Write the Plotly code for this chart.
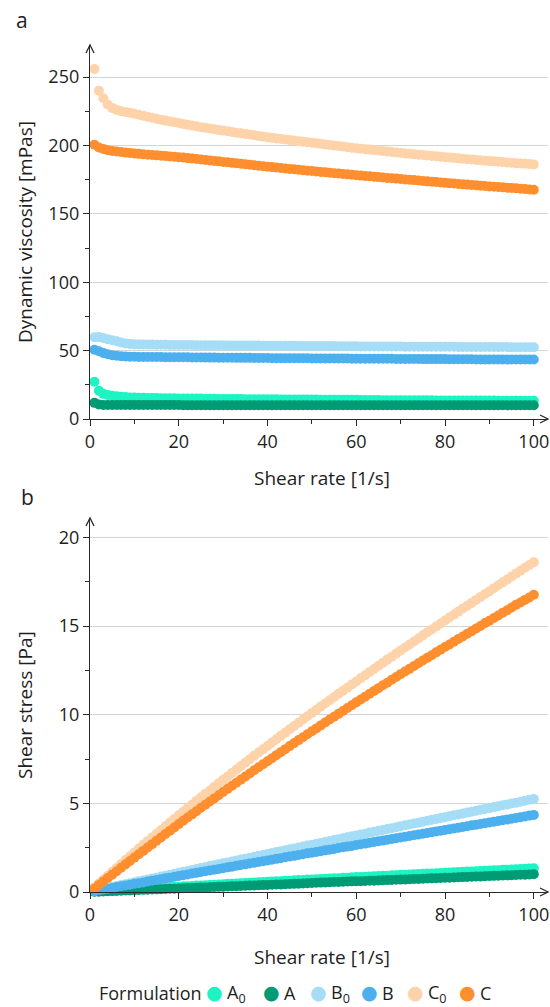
import plotly.graph_objects as go

# ---------------- data ----------------
shear_rate = [1, 2, 3, 4, 5, 6, 7, 8, 9, 10,
              11, 12, 13, 14, 15, 16, 17, 18, 19, 20,
              21, 22, 23, 24, 25, 26, 27, 28, 29, 30,
              31, 32, 33, 34, 35, 36, 37, 38, 39, 40,
              41, 42, 43, 44, 45, 46, 47, 48, 49, 50,
              51, 52, 53, 54, 55, 56, 57, 58, 59, 60,
              61, 62, 63, 64, 65, 66, 67, 68, 69, 70,
              71, 72, 73, 74, 75, 76, 77, 78, 79, 80,
              81, 82, 83, 84, 85, 86, 87, 88, 89, 90,
              91, 92, 93, 94, 95, 96, 97, 98, 99, 100]

# Dynamic viscosity [mPas]
visc_A0 = [27.2, 20.6, 18.4, 17.5, 17.0, 16.6, 16.3, 16.0, 15.8, 15.7,
           15.6, 15.5, 15.4, 15.4, 15.3, 15.2, 15.2, 15.1, 15.1, 15.0,
           15.0, 15.0, 14.9, 14.9, 14.9, 14.8, 14.8, 14.8, 14.7, 14.7,
           14.7, 14.6, 14.6, 14.6, 14.5, 14.5, 14.5, 14.5, 14.4, 14.4,
           14.4, 14.4, 14.3, 14.3, 14.3, 14.3, 14.2, 14.2, 14.2, 14.2,
           14.2, 14.1, 14.1, 14.1, 14.1, 14.0, 14.0, 14.0, 14.0, 14.0,
           13.9, 13.9, 13.9, 13.9, 13.9, 13.8, 13.8, 13.8, 13.8, 13.8,
           13.8, 13.7, 13.7, 13.7, 13.7, 13.7, 13.7, 13.6, 13.6, 13.6,
           13.6, 13.6, 13.6, 13.6, 13.5, 13.5, 13.5, 13.5, 13.5, 13.5,
           13.5, 13.4, 13.4, 13.4, 13.4, 13.4, 13.4, 13.4, 13.4, 13.4]
visc_A = [11.8, 10.6, 10.3, 10.2, 10.2, 10.2, 10.2, 10.2, 10.2, 10.2,
          10.2, 10.2, 10.2, 10.2, 10.2, 10.2, 10.2, 10.2, 10.2, 10.2,
          10.1, 10.1, 10.1, 10.1, 10.1, 10.1, 10.1, 10.1, 10.1, 10.1,
          10.1, 10.1, 10.1, 10.1, 10.1, 10.1, 10.1, 10.1, 10.1, 10.1,
          10.1, 10.1, 10.1, 10.1, 10.1, 10.1, 10.1, 10.1, 10.1, 10.1,
          10.1, 10.1, 10.1, 10.1, 10.1, 10.1, 10.1, 10.1, 10.1, 10.1,
          10.0, 10.0, 10.0, 10.0, 10.0, 10.0, 10.0, 10.0, 10.0, 10.0,
          10.0, 10.0, 10.0, 10.0, 10.0, 10.0, 10.0, 10.0, 10.0, 10.0,
          10.0, 10.0, 10.0, 10.0, 10.0, 10.0, 10.0, 10.0, 10.0, 10.0,
          10.0, 10.0, 10.0, 10.0, 10.0, 10.0, 10.0, 10.0, 10.0, 10.0]
visc_B0 = [59.8, 60.0, 59.2, 58.3, 57.6, 56.8, 56.0, 55.3, 54.8, 54.6,
           54.5, 54.5, 54.4, 54.4, 54.3, 54.3, 54.3, 54.2, 54.2, 54.2,
           54.1, 54.1, 54.1, 54.0, 54.0, 54.0, 53.9, 53.9, 53.9, 53.9,
           53.8, 53.8, 53.8, 53.8, 53.7, 53.7, 53.7, 53.7, 53.6, 53.6,
           53.6, 53.6, 53.5, 53.5, 53.5, 53.5, 53.4, 53.4, 53.4, 53.4,
           53.4, 53.3, 53.3, 53.3, 53.3, 53.2, 53.2, 53.2, 53.2, 53.2,
           53.1, 53.1, 53.1, 53.1, 53.1, 53.0, 53.0, 53.0, 53.0, 53.0,
           52.9, 52.9, 52.9, 52.9, 52.9, 52.9, 52.8, 52.8, 52.8, 52.8,
           52.8, 52.8, 52.7, 52.7, 52.7, 52.7, 52.7, 52.7, 52.6, 52.6,
           52.6, 52.6, 52.6, 52.6, 52.5, 52.5, 52.5, 52.5, 52.5, 52.5]
visc_B = [50.7, 49.5, 48.3, 47.3, 46.6, 46.2, 45.9, 45.7, 45.6, 45.5,
          45.4, 45.4, 45.4, 45.3, 45.3, 45.3, 45.2, 45.2, 45.2, 45.1,
          45.1, 45.1, 45.0, 45.0, 45.0, 44.9, 44.9, 44.9, 44.8, 44.8,
          44.8, 44.8, 44.7, 44.7, 44.7, 44.7, 44.6, 44.6, 44.6, 44.6,
          44.5, 44.5, 44.5, 44.5, 44.4, 44.4, 44.4, 44.4, 44.4, 44.3,
          44.3, 44.3, 44.3, 44.2, 44.2, 44.2, 44.2, 44.2, 44.1, 44.1,
          44.1, 44.1, 44.1, 44.0, 44.0, 44.0, 44.0, 44.0, 43.9, 43.9,
          43.9, 43.9, 43.9, 43.9, 43.8, 43.8, 43.8, 43.8, 43.8, 43.8,
          43.7, 43.7, 43.7, 43.7, 43.7, 43.7, 43.6, 43.6, 43.6, 43.6,
          43.6, 43.6, 43.6, 43.5, 43.5, 43.5, 43.5, 43.5, 43.5, 43.5]
visc_C0 = [256, 240, 234.5, 230, 227.5, 226, 225, 224.5, 224, 223.2,
           222.5, 221.8, 221, 220.3, 219.6, 218.9, 218.2, 217.6, 217, 216.4,
           215.8, 215.2, 214.6, 214, 213.4, 212.9, 212.4, 211.9, 211.4, 210.9,
           210.4, 209.9, 209.4, 209, 208.5, 208, 207.5, 207, 206.5, 206,
           205.6, 205.2, 204.8, 204.4, 204, 203.6, 203.2, 202.8, 202.4, 202,
           201.6, 201.2, 200.8, 200.4, 200, 199.6, 199.2, 198.8, 198.4, 198,
           197.7, 197.3, 197, 196.6, 196.3, 195.9, 195.6, 195.2, 194.9, 194.5,
           194.2, 193.9, 193.6, 193.3, 193, 192.7, 192.4, 192.1, 191.8, 191.5,
           191.2, 190.9, 190.6, 190.3, 190, 189.7, 189.4, 189.2, 188.9, 188.6,
           188.4, 188.1, 187.9, 187.6, 187.4, 187.1, 186.9, 186.6, 186.4, 186.1]
visc_C = [200.5, 198.5, 197.4, 196.6, 196.0, 195.6, 195.2, 194.8, 194.5, 194.2,
          193.9, 193.6, 193.3, 193.1, 192.8, 192.5, 192.3, 192.0, 191.8, 191.5,
          191.2, 190.8, 190.5, 190.1, 189.8, 189.4, 189.1, 188.7, 188.4, 188.0,
          187.7, 187.3, 187.0, 186.6, 186.3, 185.9, 185.6, 185.2, 184.9, 184.5,
          184.2, 183.9, 183.5, 183.2, 182.9, 182.6, 182.3, 181.9, 181.6, 181.3,
          181.0, 180.7, 180.4, 180.1, 179.8, 179.5, 179.2, 178.9, 178.6, 178.3,
          178.0, 177.7, 177.5, 177.2, 176.9, 176.6, 176.3, 176.1, 175.8, 175.5,
          175.2, 174.9, 174.7, 174.4, 174.1, 173.8, 173.5, 173.3, 173.0, 172.7,
          172.4, 172.2, 171.9, 171.6, 171.4, 171.1, 170.9, 170.6, 170.4, 170.1,
          169.9, 169.6, 169.4, 169.1, 168.9, 168.7, 168.4, 168.2, 167.9, 167.7]

# Shear stress [Pa]
stress_A0 = [0.03, 0.04, 0.06, 0.07, 0.09, 0.10, 0.11, 0.13, 0.14, 0.16,
             0.17, 0.19, 0.20, 0.22, 0.23, 0.24, 0.26, 0.27, 0.29, 0.30,
             0.32, 0.33, 0.34, 0.36, 0.37, 0.38, 0.40, 0.41, 0.43, 0.44,
             0.46, 0.47, 0.48, 0.50, 0.51, 0.52, 0.54, 0.55, 0.56, 0.58,
             0.59, 0.60, 0.61, 0.63, 0.64, 0.66, 0.67, 0.68, 0.70, 0.71,
             0.72, 0.73, 0.75, 0.76, 0.78, 0.78, 0.80, 0.81, 0.83, 0.84,
             0.85, 0.86, 0.88, 0.89, 0.90, 0.91, 0.92, 0.94, 0.95, 0.97,
             0.98, 0.99, 1.00, 1.01, 1.03, 1.04, 1.05, 1.06, 1.07, 1.09,
             1.10, 1.12, 1.13, 1.14, 1.15, 1.16, 1.17, 1.19, 1.20, 1.22,
             1.23, 1.23, 1.25, 1.26, 1.27, 1.29, 1.30, 1.31, 1.33, 1.34]
stress_A = [0.01, 0.02, 0.03, 0.04, 0.05, 0.06, 0.07, 0.08, 0.09, 0.10,
            0.11, 0.12, 0.13, 0.14, 0.15, 0.16, 0.17, 0.18, 0.19, 0.20,
            0.21, 0.22, 0.23, 0.24, 0.25, 0.26, 0.27, 0.28, 0.29, 0.30,
            0.31, 0.32, 0.33, 0.34, 0.35, 0.36, 0.37, 0.38, 0.39, 0.40,
            0.41, 0.42, 0.43, 0.44, 0.45, 0.46, 0.47, 0.48, 0.49, 0.51,
            0.52, 0.53, 0.54, 0.55, 0.56, 0.57, 0.58, 0.59, 0.60, 0.61,
            0.61, 0.62, 0.63, 0.64, 0.65, 0.66, 0.67, 0.68, 0.69, 0.70,
            0.71, 0.72, 0.73, 0.74, 0.75, 0.76, 0.77, 0.78, 0.79, 0.80,
            0.81, 0.82, 0.83, 0.84, 0.85, 0.86, 0.87, 0.88, 0.89, 0.90,
            0.91, 0.92, 0.93, 0.94, 0.95, 0.96, 0.97, 0.98, 0.99, 1.00]
stress_B0 = [0.06, 0.12, 0.18, 0.23, 0.29, 0.34, 0.39, 0.44, 0.49, 0.55,
             0.60, 0.65, 0.71, 0.76, 0.81, 0.87, 0.92, 0.98, 1.03, 1.08,
             1.14, 1.19, 1.24, 1.30, 1.35, 1.40, 1.46, 1.51, 1.56, 1.62,
             1.67, 1.72, 1.78, 1.83, 1.88, 1.93, 1.99, 2.04, 2.09, 2.14,
             2.20, 2.25, 2.30, 2.35, 2.41, 2.46, 2.51, 2.56, 2.62, 2.67,
             2.72, 2.77, 2.82, 2.88, 2.93, 2.98, 3.03, 3.09, 3.14, 3.19,
             3.24, 3.29, 3.35, 3.40, 3.45, 3.50, 3.55, 3.60, 3.66, 3.71,
             3.76, 3.81, 3.86, 3.91, 3.97, 4.02, 4.07, 4.12, 4.17, 4.22,
             4.28, 4.33, 4.37, 4.43, 4.48, 4.53, 4.58, 4.64, 4.68, 4.73,
             4.79, 4.84, 4.89, 4.94, 4.99, 5.04, 5.09, 5.15, 5.20, 5.25]
stress_B = [0.05, 0.10, 0.14, 0.19, 0.23, 0.28, 0.32, 0.37, 0.41, 0.46,
            0.50, 0.54, 0.59, 0.63, 0.68, 0.72, 0.77, 0.81, 0.86, 0.90,
            0.95, 0.99, 1.04, 1.08, 1.13, 1.17, 1.21, 1.26, 1.30, 1.34,
            1.39, 1.43, 1.48, 1.52, 1.56, 1.61, 1.65, 1.69, 1.74, 1.78,
            1.82, 1.87, 1.91, 1.96, 2.00, 2.04, 2.09, 2.13, 2.18, 2.22,
            2.26, 2.30, 2.35, 2.39, 2.43, 2.48, 2.52, 2.56, 2.60, 2.65,
            2.69, 2.73, 2.78, 2.82, 2.86, 2.90, 2.95, 2.99, 3.03, 3.07,
            3.12, 3.16, 3.20, 3.25, 3.29, 3.33, 3.37, 3.42, 3.46, 3.50,
            3.54, 3.58, 3.63, 3.67, 3.71, 3.76, 3.79, 3.84, 3.88, 3.92,
            3.97, 4.01, 4.05, 4.09, 4.13, 4.18, 4.22, 4.26, 4.31, 4.35]
stress_C0 = [0.26, 0.48, 0.70, 0.92, 1.14, 1.36, 1.58, 1.80, 2.02, 2.23,
             2.45, 2.66, 2.87, 3.08, 3.29, 3.50, 3.71, 3.92, 4.12, 4.33,
             4.53, 4.73, 4.94, 5.14, 5.34, 5.54, 5.73, 5.93, 6.13, 6.33,
             6.52, 6.72, 6.91, 7.11, 7.30, 7.49, 7.68, 7.87, 8.05, 8.24,
             8.43, 8.62, 8.81, 8.99, 9.18, 9.37, 9.55, 9.73, 9.92, 10.10,
             10.28, 10.46, 10.64, 10.82, 11.00, 11.18, 11.35, 11.53, 11.71, 11.88,
             12.06, 12.23, 12.41, 12.58, 12.76, 12.93, 13.11, 13.27, 13.45, 13.62,
             13.79, 13.96, 14.13, 14.30, 14.48, 14.65, 14.81, 14.98, 15.15, 15.32,
             15.49, 15.65, 15.82, 15.99, 16.15, 16.31, 16.48, 16.65, 16.81, 16.97,
             17.14, 17.31, 17.47, 17.63, 17.80, 17.96, 18.13, 18.29, 18.45, 18.61]
stress_C = [0.20, 0.40, 0.59, 0.79, 0.98, 1.17, 1.37, 1.56, 1.75, 1.94,
            2.13, 2.32, 2.51, 2.70, 2.89, 3.08, 3.27, 3.46, 3.64, 3.83,
            4.02, 4.20, 4.38, 4.56, 4.75, 4.92, 5.11, 5.28, 5.46, 5.64,
            5.82, 5.99, 6.17, 6.34, 6.52, 6.69, 6.87, 7.04, 7.21, 7.38,
            7.55, 7.72, 7.89, 8.06, 8.23, 8.40, 8.57, 8.73, 8.90, 9.07,
            9.23, 9.40, 9.56, 9.73, 9.89, 10.05, 10.21, 10.38, 10.54, 10.70,
            10.86, 11.02, 11.18, 11.34, 11.50, 11.66, 11.81, 11.97, 12.13, 12.29,
            12.44, 12.59, 12.75, 12.91, 13.06, 13.21, 13.36, 13.52, 13.67, 13.82,
            13.96, 14.12, 14.27, 14.41, 14.57, 14.71, 14.87, 15.01, 15.17, 15.31,
            15.46, 15.60, 15.75, 15.90, 16.05, 16.20, 16.33, 16.48, 16.62, 16.77]

names = ["A<sub>0</sub>", "A", "B<sub>0</sub>", "B", "C<sub>0</sub>", "C"]
colors = ["#1CF5C3", "#009B74", "#A6DDF6", "#4DB0EE", "#FFD3AA", "#FF8E2F"]
visc = [visc_A0, visc_A, visc_B0, visc_B, visc_C0, visc_C]
stress = [stress_A0, stress_A, stress_B0, stress_B, stress_C0, stress_C]

# ---------------- figure ----------------
W, H = 550, 1007
ML, MR = 90, 2
PW = W - ML - MR
FONT = "Open Sans"
TXT = "#1E1E1E"
AX = "#2A2A2A"
FS = 18
FT = 19

fig = go.Figure()
for n, c, v, s in zip(names, colors, visc, stress):
    fig.add_trace(go.Scatter(x=shear_rate, y=v, mode="markers", name=n,
                             legendgroup=n, showlegend=False,
                             marker=dict(size=10, color=c),
                             xaxis="x", yaxis="y", cliponaxis=False))
    fig.add_trace(go.Scatter(x=shear_rate, y=s, mode="markers", name=n,
                             legendgroup=n, showlegend=False,
                             marker=dict(size=10, color=c),
                             xaxis="x2", yaxis="y2", cliponaxis=False))


def py(p):
    return 1 - p / H


def px(p):
    return (p - ML) / PW


common_x = dict(range=[0, 103.2], showline=True, linecolor=AX, linewidth=1.3,
                ticks="outside", ticklen=6, tickwidth=1.3, tickcolor=AX,
                tick0=0, dtick=20, showgrid=False, zeroline=False,
                tickfont=dict(size=FS, color=TXT, family=FONT),
                minor=dict(dtick=10, ticklen=4, tickwidth=1.2, tickcolor=AX,
                           ticks="outside", showgrid=False))
common_y = dict(showline=True, linecolor=AX, linewidth=1.3,
                ticks="outside", ticklen=6, tickwidth=1.3, tickcolor=AX,
                tick0=0, showgrid=True, gridcolor="#D4D4D4", gridwidth=1,
                zeroline=False,
                tickfont=dict(size=FS, color=TXT, family=FONT))

fig.update_layout(
    width=W, height=H,
    margin=dict(l=ML, r=MR, t=0, b=0, autoexpand=False),
    paper_bgcolor="white", plot_bgcolor="white",
    font=dict(family=FONT, size=FS, color=TXT),
    showlegend=False,
    xaxis=dict(domain=[0, 1], anchor="y", **common_x),
    xaxis2=dict(domain=[0, 1], anchor="y2", **common_x),
    yaxis=dict(domain=[py(419), py(45)], anchor="x", range=[0, 273.5], dtick=50,
               minor=dict(dtick=25, ticklen=4, tickwidth=1.2, tickcolor=AX,
                          ticks="outside", showgrid=False),
               **common_y),
    yaxis2=dict(domain=[py(892), py(518)], anchor="x2", range=[0, 21.1], dtick=5,
                minor=dict(dtick=2.5, ticklen=4, tickwidth=1.2, tickcolor=AX,
                           ticks="outside", showgrid=False),
                **common_y),
)

# axis arrows
for xr, yr in (("x domain", "y domain"), ("x2 domain", "y2 domain")):
    fig.add_shape(type="path", xref=xr, yref=yr, xsizemode="pixel", ysizemode="pixel",
                  xanchor=0, yanchor=1, path="M-4,-8 L0,0 L4,-8",
                  line=dict(color=AX, width=1.3))
    fig.add_shape(type="path", xref=xr, yref=yr, xsizemode="pixel", ysizemode="pixel",
                  xanchor=1, yanchor=0, path="M-8,4 L0,0 L-8,-4",
                  line=dict(color=AX, width=1.3))

ann = [
    dict(text="a", x=px(22), y=py(20), size=21, angle=0),
    dict(text="b", x=px(27), y=py(497), size=21, angle=0),
    dict(text="Dynamic viscosity [mPas]", x=px(25), y=py(232), size=FT, angle=-90),
    dict(text="Shear stress [Pa]", x=px(25), y=py(705), size=FT, angle=-90),
    dict(text="Shear rate [1/s]", x=px(322), y=py(478), size=FT, angle=0),
    dict(text="Shear rate [1/s]", x=px(322), y=py(957), size=FT, angle=0),
]
for a in ann:
    fig.add_annotation(text=a["text"], x=a["x"], y=a["y"], xref="paper", yref="paper",
                       xanchor="center", yanchor="middle", showarrow=False,
                       textangle=a["angle"],
                       font=dict(size=a["size"], color=TXT, family=FONT))

# legend row (title + coloured dot + label per formulation)
LEG_Y = 993
legend_title_x = 97
legend_dot_x = [214, 271, 318, 369, 415, 467]
fig.add_annotation(text="Formulation", x=px(legend_title_x), y=py(LEG_Y),
                   xref="paper", yref="paper", xanchor="left", yanchor="middle",
                   showarrow=False, font=dict(size=18, color=TXT, family=FONT))
for n, c, dx in zip(names, colors, legend_dot_x):
    fig.add_annotation(text="●", x=px(dx), y=py(LEG_Y - 1), xref="paper", yref="paper",
                       xanchor="center", yanchor="middle", showarrow=False,
                       font=dict(size=19, color=c, family="DejaVu Sans"))
    fig.add_annotation(text=n, x=px(dx + 11), y=py(LEG_Y), xref="paper", yref="paper",
                       xanchor="left", yanchor="middle", showarrow=False,
                       font=dict(size=18, color=TXT, family=FONT))

fig.write_html("out.html")
